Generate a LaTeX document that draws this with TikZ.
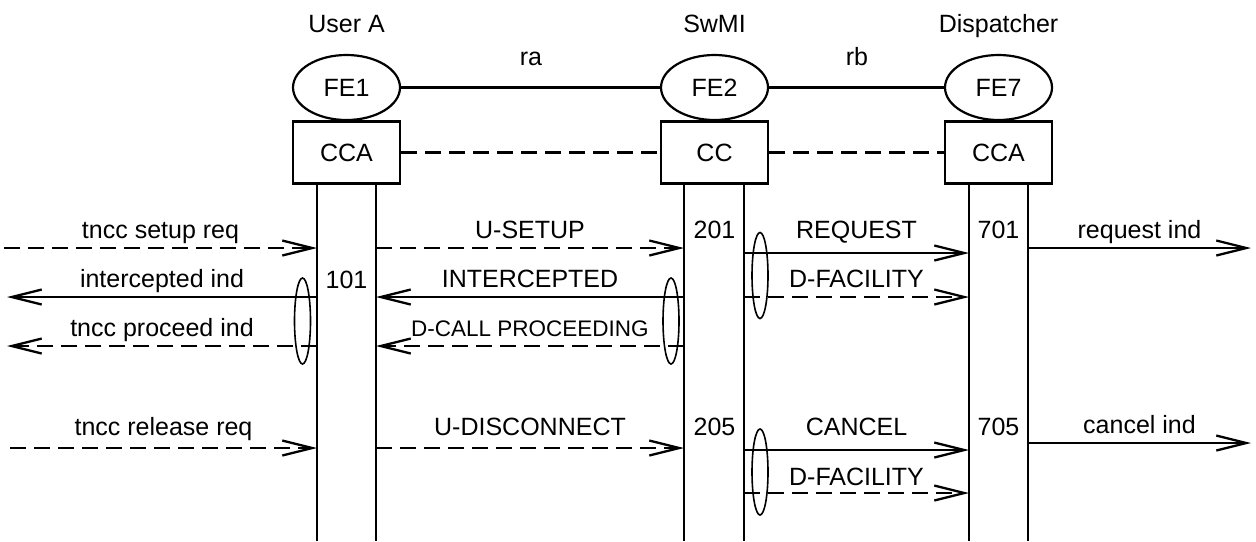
\documentclass[tikz,border=0pt]{standalone}
\usepackage{fontspec}
\setmainfont{Liberation Sans}
\usetikzlibrary{shapes,arrows.meta}
\tikzstyle{fe} = [draw, ellipse, line width=1.1pt, minimum width=53.5pt, minimum height=32.5pt, inner sep=0pt]
\tikzstyle{ccbox} = [draw, rectangle, line width=1.1pt, minimum width=53.5pt, minimum height=31pt, inner sep=0pt]
\tikzstyle{msg} = [line width=1.15pt, -{Straight Barb[length=15pt,width=7.5pt]}]
\tikzstyle{dsh} = [dash pattern=on 8pt off 4pt]
\tikzstyle{lbl} = [anchor=base, inner sep=0pt, yshift=4.75pt]
\tikzstyle{grp} = [line width=0.8pt]

\begin{document}
\begin{tikzpicture}[x=0.5pt,y=-0.5pt,every node/.style={font=\fontsize{12.5pt}{15pt}\selectfont}]
\useasboundingbox (0,0) rectangle (1256,541);

% entities
\node[anchor=base] (usera) at (346.5,32) {User A};
\node[anchor=base] (swmi) at (714.5,32) {SwMI};
\node[anchor=base] (disp) at (998.5,32) {Dispatcher};

\node[fe] (fe1) at (346.5,87.5) {FE1};
\node[fe] (fe2) at (714.5,87.5) {FE2};
\node[fe] (fe7) at (998.5,87.5) {FE7};
\draw[line width=1.1pt] (fe1) -- (fe2);
\draw[line width=1.1pt] (fe2) -- (fe7);
\node[anchor=base] (ra) at (531,65) {ra};
\node[anchor=base] (rb) at (857,65) {rb};

\node[ccbox] (cca1) at (346.5,152.5) {CCA};
\node[ccbox] (cc2) at (714.5,152.5) {CC};
\node[ccbox] (cca7) at (998.5,152.5) {CCA};
\draw[line width=1.15pt,dsh] (cca1) -- (cc2);
\draw[line width=1.15pt,dsh] (cc2) -- (cca7);

% lifelines
\coordinate (aL) at (317,541);
\coordinate (aR) at (376,541);
\coordinate (sL) at (684,541);
\coordinate (sR) at (744,541);
\coordinate (dL) at (969,541);
\coordinate (dR) at (1028,541);
\foreach \c/\b in {aL/cca1,aR/cca1,sL/cc2,sR/cc2,dL/cca7,dR/cca7}
	\draw[line width=1.1pt] (\b.south -| \c) -- (\c);

% rows of messages
\coordinate (r1) at (4,248);
\coordinate (r2) at (7,297);
\coordinate (r3) at (7,346);
\coordinate (r4) at (10,448);
\coordinate (q1) at (0,253);
\coordinate (q4) at (0,450);
\coordinate (q5) at (0,493);
\coordinate (e1) at (1251,248);
\coordinate (e4) at (1251,443);

% setup
\draw[msg,dsh] (r1) -- (r1 -| aL) node[lbl,midway] {tncc setup req};
\draw[msg,dsh] (r1 -| aR) -- (r1 -| sL) node[lbl,midway] {U-SETUP};
\draw[msg] (q1 -| sR) -- (q1 -| dL) node[lbl,midway,yshift=2.75pt] {REQUEST};
\draw[msg] (r1 -| dR) -- (e1) node[lbl,midway] {request ind};

\draw[msg] (r2 -| aL) -- (r2) node[lbl,midway] {intercepted ind};
\draw[msg] (r2 -| sL) -- (r2 -| aR) node[lbl,midway] {INTERCEPTED};
\draw[msg,dsh] (r2 -| sR) -- (r2 -| dL) node[lbl,midway] {D-FACILITY};

\draw[msg,dsh] (r3 -| aL) -- (r3) node[lbl,midway] {tncc proceed ind};
\draw[msg,dsh] (r3 -| sL) -- (r3 -| aR)
	node[lbl,midway,font=\fontsize{11.25pt}{13pt}\selectfont] {D-CALL PROCEEDING};

% release
\draw[msg,dsh] (r4) -- (r4 -| aL) node[lbl,midway,yshift=1.75pt] {tncc release req};
\draw[msg,dsh] (r4 -| aR) -- (r4 -| sL) node[lbl,midway,yshift=1.75pt] {U-DISCONNECT};
\draw[msg] (q4 -| sR) -- (q4 -| dL) node[lbl,midway,yshift=2.75pt] {CANCEL};
\draw[msg] (e4 -| dR) -- (e4) node[lbl,midway] {cancel ind};
\draw[msg,dsh] (q5 -| sR) -- (q5 -| dL) node[lbl,midway,yshift=-1pt] {D-FACILITY};

% state numbers
\node[anchor=base] (n101) at (346.5,288) {101};
\node[anchor=base] (n201) at (714.5,238) {201};
\node[anchor=base] (n701) at (998.5,238) {701};
\node[anchor=base] (n205) at (714.5,435) {205};
\node[anchor=base] (n705) at (998.5,435) {705};

% grouped messages
\draw[grp] (302.5,321) ellipse (4pt and 21.5pt);
\draw[grp] (671,321) ellipse (4pt and 21.5pt);
\draw[grp] (760,275.5) ellipse (4pt and 21.5pt);
\draw[grp] (760,472) ellipse (4pt and 21.5pt);
\end{tikzpicture}
\end{document}
